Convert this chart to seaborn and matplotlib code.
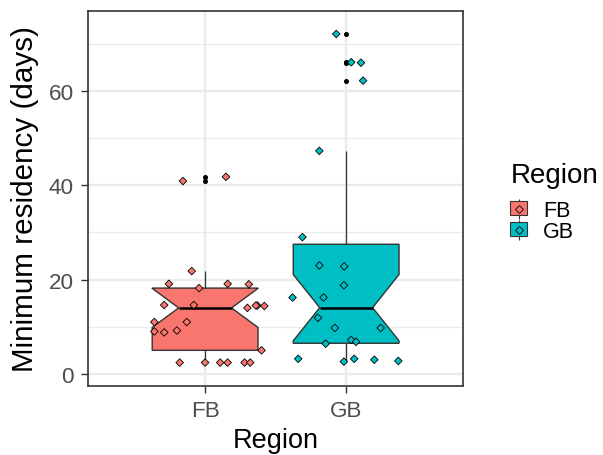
import pandas as pd
import matplotlib.pyplot as plt
import seaborn as sns
from matplotlib.lines import Line2D
from matplotlib.patches import Patch
from matplotlib.ticker import MultipleLocator

# DATA
regions = ["FB", "GB"]
palette = {"FB": "#F8766D", "GB": "#00BFC4"}

# Minimum residency (days) per animal
fb_days = [40.9, 41.8, 21.8, 19.1, 18.2, 19.1, 19.0, 14.6, 14.6, 14.0, 14.5,
           14.5, 14.4, 11.0, 11.0, 9.0, 8.8, 9.2, 5.0,
           2.4, 2.4, 2.4, 2.4, 2.4, 2.4]
gb_days = [72.1, 66.1, 66.0, 62.2, 47.3, 29.0, 23.0, 22.8, 18.8, 16.2, 16.2,
           11.9, 9.75, 9.75, 6.4, 7.2, 6.8, 3.2, 2.6, 3.2, 3.0, 2.75]

# Horizontal jitter of each point (category widths)
fb_jitter = [-0.157, 0.148, -0.095, -0.257, -0.043, 0.16, 0.31, -0.29, -0.08,
             0.30, 0.37, 0.36, 0.42, -0.36, -0.13, -0.36, -0.29, -0.20, 0.40,
             -0.18, 0.0, 0.107, 0.16, 0.28, 0.32]
gb_jitter = [-0.07, 0.036, 0.105, 0.12, -0.19, -0.31, -0.19, -0.014, -0.016,
             -0.38, -0.16, -0.20, -0.08, 0.245, -0.145, 0.036, 0.07, -0.34,
             -0.016, 0.057, 0.2, 0.37]

df = pd.DataFrame({
    "Region": ["FB"] * len(fb_days) + ["GB"] * len(gb_days),
    "days": fb_days + gb_days,
    "jitter": fb_jitter + gb_jitter,
})
df["Region"] = pd.Categorical(df["Region"], categories=regions)
df["pos"] = df["Region"].cat.codes + df["jitter"]

# PLOT
plt.rcParams["font.family"] = ["Liberation Sans", "DejaVu Sans"]
fig = plt.figure(figsize=(6.03, 4.56), dpi=100)
ax = fig.add_axes([0.146, 0.152, 0.621, 0.822])

edge = "#333333"
sns.boxplot(
    data=df,
    x="Region",
    y="days",
    hue="Region",
    palette=palette,
    saturation=1,
    notch=True,
    width=0.75,
    linewidth=1.0,
    linecolor=edge,
    showcaps=False,
    medianprops=dict(color="black", linewidth=1.8),
    whiskerprops=dict(color=edge, linewidth=0.9),
    flierprops=dict(marker="o", markersize=2.6, markerfacecolor="black",
                    markeredgecolor="black"),
    legend=False,
    ax=ax,
    zorder=2,
)

sns.scatterplot(
    data=df,
    x="pos",
    y="days",
    hue="Region",
    palette=palette,
    marker="D",
    s=15,
    edgecolor="black",
    linewidth=0.6,
    legend=False,
    ax=ax,
    zorder=3,
)

# Limits and ticks
ax.set_xlim(-0.83, 1.825)
ax.set_ylim(-2.5, 77)
ax.set_xticks([0, 1])
ax.set_xticklabels(regions)
ax.yaxis.set_major_locator(MultipleLocator(20))
ax.yaxis.set_minor_locator(MultipleLocator(10))

# theme_bw look
ax.set_facecolor("white")
ax.set_axisbelow(True)
ax.grid(which="major", color="#EBEBEB", linewidth=1.7)
ax.grid(which="minor", axis="y", color="#EBEBEB", linewidth=0.9)
for s in ax.spines.values():
    s.set_color(edge)
    s.set_linewidth(1.2)
ax.tick_params(which="major", length=4.8, width=1.0, color=edge,
               labelsize=16.2, labelcolor="#4D4D4D", pad=5.5)
ax.tick_params(which="minor", length=0)

ax.set_xlabel("Region", fontsize=19.5, labelpad=4)
ax.set_ylabel("Minimum residency (days)", fontsize=21.3, labelpad=7)

# Legend
handles = []
for r in regions:
    whisk = Line2D([], [], marker="|", markersize=15, color=edge,
                   markeredgewidth=0.8, linestyle="none")
    box = Patch(facecolor=palette[r], edgecolor=edge, linewidth=0.8)
    pt = Line2D([], [], marker="D", markersize=4.5, markerfacecolor=palette[r],
                markeredgecolor="black", markeredgewidth=0.6, linestyle="none")
    handles.append((whisk, box, pt))
fig.text(0.847, 0.599, "Region", fontsize=20, va="baseline", ha="left")
fig.legend(
    handles=handles,
    labels=regions,
    loc="upper left",
    bbox_to_anchor=(0.846, 0.560),
    frameon=False,
    fontsize=15.5,
    handlelength=0.8,
    handleheight=0.56,
    handletextpad=0.74,
    labelspacing=0.0,
    borderpad=0,
    borderaxespad=0,
)

fig.savefig("out.png", dpi=100)
plt.close(fig)
